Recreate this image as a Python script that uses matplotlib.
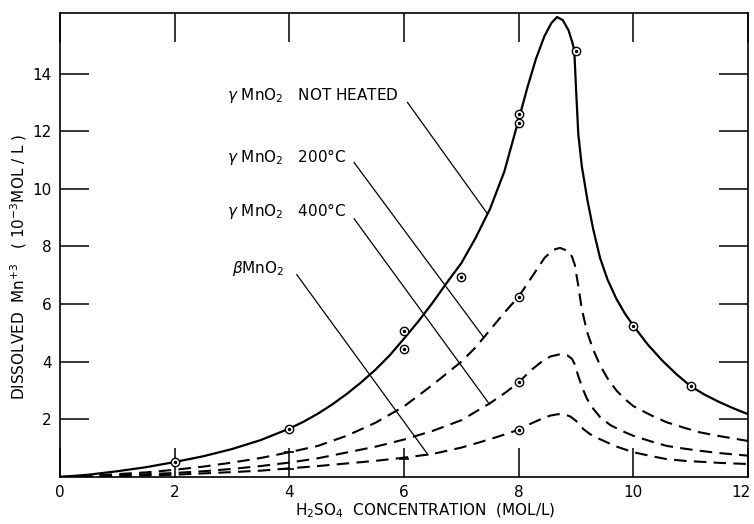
import matplotlib
matplotlib.use("Agg")
import matplotlib.pyplot as plt
from matplotlib.transforms import ScaledTranslation

# curves (H2SO4 mol/L -> dissolved Mn+3, 1e-3 mol/L)
not_heated_x = [0, 0.5, 1, 1.5, 2, 2.5, 3, 3.5, 4, 4.25, 4.5, 4.75, 5, 5.25, 5.5, 5.75, 6,
                6.25, 6.5, 6.75, 7, 7.25, 7.5, 7.75, 8, 8.15, 8.3, 8.45, 8.57, 8.67, 8.77,
                8.87, 8.94, 8.97, 9.0, 9.04, 9.1, 9.2, 9.3, 9.42, 9.55, 9.7, 9.85, 10,
                10.25, 10.5, 10.75, 11, 11.25, 11.5, 11.75, 12]
not_heated_y = [0, 0.08, 0.2, 0.34, 0.52, 0.72, 0.97, 1.28, 1.68, 1.92, 2.2, 2.52, 2.88, 3.28,
                3.72, 4.22, 4.8, 5.4, 6.05, 6.75, 7.42, 8.3, 9.3, 10.6, 12.4, 13.5, 14.5, 15.3,
                15.75, 15.96, 15.85, 15.5, 15.05, 14.8, 13.5, 11.9, 10.8, 9.6, 8.6, 7.6, 6.85,
                6.2, 5.68, 5.25, 4.6, 4.05, 3.57, 3.15, 2.85, 2.6, 2.38, 2.18]

heated200_x = [0, 0.5, 1, 1.5, 2, 2.5, 3, 3.5, 4, 4.5, 5, 5.5, 6, 6.5, 7, 7.25, 7.5, 7.75,
               8, 8.25, 8.45, 8.6, 8.72, 8.85, 8.93, 8.98, 9.03, 9.1, 9.19, 9.3, 9.42, 9.55,
               9.71, 9.85, 10, 10.3, 10.58, 10.9, 11.16, 11.5, 12]
heated200_y = [0, 0.04, 0.1, 0.16, 0.25, 0.36, 0.5, 0.66, 0.86, 1.08, 1.43, 1.88, 2.45, 3.2,
               4.0, 4.5, 5.1, 5.7, 6.26, 7.0, 7.6, 7.88, 7.95, 7.85, 7.65, 7.35, 6.75, 5.85, 5.05,
               4.42, 3.88, 3.42, 2.99, 2.71, 2.46, 2.15, 1.9, 1.7, 1.55, 1.42, 1.25]

heated400_x = [0, 1, 2, 2.5, 3, 3.5, 4, 4.5, 5, 5.5, 6, 6.5, 7, 7.5, 7.75, 8, 8.2, 8.4,
               8.55, 8.72, 8.85, 8.93, 8.98, 9.04, 9.12, 9.19, 9.3, 9.42, 9.6, 9.8, 10,
               10.3, 10.58, 10.9, 11.16, 11.5, 12]
heated400_y = [0, 0.05, 0.14, 0.2, 0.28, 0.38, 0.5, 0.65, 0.85, 1.05, 1.3, 1.6, 1.97, 2.56,
               2.9, 3.28, 3.68, 4.0, 4.18, 4.26, 4.22, 4.1, 3.9, 3.5, 3.05, 2.72, 2.37, 2.08,
               1.8, 1.6, 1.43, 1.24, 1.08, 0.98, 0.91, 0.83, 0.74]

beta_x = [0, 1, 2, 3, 3.5, 4, 4.5, 5, 5.5, 6, 6.5, 7, 7.33, 7.67, 8, 8.2, 8.4, 8.55, 8.69,
          8.82, 8.9, 9.0, 9.13, 9.25, 9.42, 9.7, 10, 10.3, 10.58, 10.9, 11.16, 11.5, 12]
beta_y = [0, 0.03, 0.08, 0.17, 0.22, 0.3, 0.38, 0.47, 0.56, 0.67, 0.8, 1.02, 1.21, 1.42,
          1.64, 1.84, 2.02, 2.13, 2.18, 2.16, 2.1, 1.95, 1.66, 1.48, 1.31, 1.06, 0.86, 0.73,
          0.62, 0.56, 0.53, 0.49, 0.45]

# measured points (circles)
pts_x = [2, 4, 6, 6, 7, 8, 8, 9, 10, 11, 8, 8, 8]
pts_y = [0.52, 1.68, 5.07, 4.45, 6.95, 12.6, 12.3, 14.78, 5.25, 3.15, 6.26, 3.28, 1.64]

# small cross marks on the dashed curves
cross_x = [4, 4, 6]
cross_y = [0.86, 0.28, 0.62]

labels = [r"$\gamma$ MnO$_2$   NOT HEATED", r"$\gamma$ MnO$_2$   200°C",
          r"$\gamma$ MnO$_2$   400°C", r"$\beta$MnO$_2$"]
label_xy = [(2.92, 13.25), (2.92, 11.1), (2.92, 9.24), (3.0, 7.23)]
leader_start = [(6.06, 13.0), (5.13, 10.91), (5.13, 8.96), (4.13, 7.02)]
leader_end = [(7.45, 9.15), (7.38, 4.87), (7.49, 2.53), (6.42, 0.77)]

xticks = [0, 2, 4, 6, 8, 10, 12]
yticks = [2, 4, 6, 8, 10, 12, 14]

plt.rcParams["font.family"] = ["DejaVu Sans"]
plt.rcParams["mathtext.fontset"] = "dejavusans"

fig = plt.figure(figsize=(7.54, 5.24), dpi=100)
ax = fig.add_axes([60 / 754, 1 - 477 / 524, 688 / 754, 464 / 524])

ax.plot(not_heated_x, not_heated_y, color="black", lw=1.6)
dash = (6, 3.5)
for xs, ys in [(heated200_x, heated200_y), (heated400_x, heated400_y), (beta_x, beta_y)]:
    ax.plot(xs, ys, color="black", lw=1.5, dashes=dash)

ax.plot(pts_x, pts_y, ls="none", marker="o", ms=6, mfc="white", mec="black", mew=1.0, zorder=5)
ax.plot(pts_x, pts_y, ls="none", marker="o", ms=1.5, color="black", zorder=6)
ax.plot(cross_x, cross_y, ls="none", marker="_", ms=7, mew=1.2, color="black")

for txt, (tx, ty) in zip(labels, label_xy):
    ax.text(tx, ty, txt, fontsize=11, ha="left", va="center")
for (x0, y0), (x1, y1) in zip(leader_start, leader_end):
    ax.plot([x0, x1], [y0, y1], color="black", lw=0.9)

ax.set_xlim(0, 12)
ax.set_ylim(0, 16.1)
ax.set_xticks(xticks)
ax.set_yticks(yticks)
ax.tick_params(direction="in", length=21, width=1.1, top=True, right=True,
               labelsize=11, pad=6)
for sp in ax.spines.values():
    sp.set_linewidth(1.2)

# the "12" sits right on the figure edge; nudge it in a little
last = ax.get_xticklabels()[-1]
last.set_transform(last.get_transform() + ScaledTranslation(-5 / 72, 0, fig.dpi_scale_trans))

fig.text(425 / 754, 1 - 511 / 524, r"H$_2$SO$_4$  CONCENTRATION  (MOL/L)",
         fontsize=11, ha="center", va="center")
fig.text(19 / 754, 1 - 267 / 524, r"DISSOLVED  Mn$^{+3}$   ( 10$^{-3}$MOL / L )",
         fontsize=11, ha="center", va="center", rotation=90)

fig.savefig("out.png", dpi=100)
